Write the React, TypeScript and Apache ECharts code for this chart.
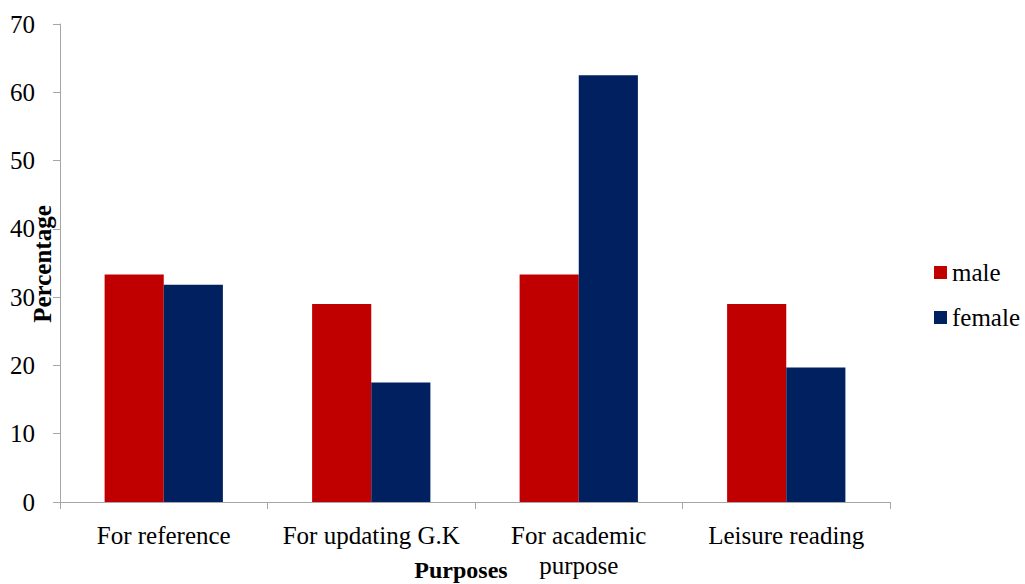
import React, { useEffect, useRef } from "react";
import * as echarts from "echarts";

const categories = ["For reference", "For updating G.K", "For academic\npurpose", "Leisure reading"];
const maleValues = [33.3, 29.0, 33.3, 29.0];
const femaleValues = [31.8, 17.5, 62.5, 19.7];
const yTicks = { min: 0, max: 70, interval: 10 };

const FONT = "Liberation Serif";

export default function App() {
  const ref = useRef<HTMLDivElement>(null);
  useEffect(() => {
    if (!ref.current) return;
    const chart = echarts.init(ref.current, undefined, { renderer: "svg" });
    chart.setOption({
      animation: false,
      backgroundColor: "#ffffff",
      textStyle: { fontFamily: FONT },
      grid: { left: 60, right: 135, top: 24, bottom: 82, containLabel: false },
      legend: {
        orient: "vertical",
        left: 929,
        top: 255,
        itemWidth: 13,
        itemHeight: 13,
        itemGap: 20,
        icon: "rect",
        textStyle: { fontFamily: FONT, fontSize: 25, color: "#000" },
        data: ["male", "female"],
      },
      xAxis: {
        type: "category",
        data: categories,
        axisLine: { lineStyle: { color: "#A6A6A6", width: 1 } },
        axisTick: { show: true, length: 7, lineStyle: { color: "#A6A6A6" }, alignWithLabel: false },
        axisLabel: {
          fontFamily: FONT,
          fontSize: 25,
          color: "#000",
          margin: 18,
          lineHeight: 30,
          interval: 0,
        },
      },
      yAxis: {
        type: "value",
        min: yTicks.min,
        max: yTicks.max,
        interval: yTicks.interval,
        splitLine: { show: false },
        axisLine: { show: true, lineStyle: { color: "#A6A6A6", width: 1 } },
        axisTick: { show: true, length: 7, lineStyle: { color: "#A6A6A6" } },
        axisLabel: { fontFamily: FONT, fontSize: 25, color: "#000", margin: 25 },
      },
      series: [
        {
          name: "male",
          type: "bar",
          data: maleValues,
          barGap: "0%",
          barCategoryGap: "43%",
          itemStyle: { color: "#C00000" },
        },
        {
          name: "female",
          type: "bar",
          data: femaleValues,
          barGap: "0%",
          barCategoryGap: "43%",
          itemStyle: { color: "#002060" },
        },
      ],
      graphic: [
        {
          type: "text",
          x: 42,
          y: 264,
          rotation: Math.PI / 2,
          style: {
            text: "Percentage",
            font: `bold 25px ${FONT}`,
            fill: "#000",
            textAlign: "center",
            textVerticalAlign: "middle",
          },
        },
        {
          type: "text",
          x: 461,
          y: 570,
          style: {
            text: "Purposes",
            font: `bold 24px ${FONT}`,
            fill: "#000",
            textAlign: "center",
            textVerticalAlign: "middle",
          },
        },
      ],
    });
    return () => chart.dispose();
  }, []);
  return (
    <div
      ref={ref}
      style={{ position: "fixed", left: 0, top: 0, width: 1025, height: 584, background: "#fff" }}
    />
  );
}
